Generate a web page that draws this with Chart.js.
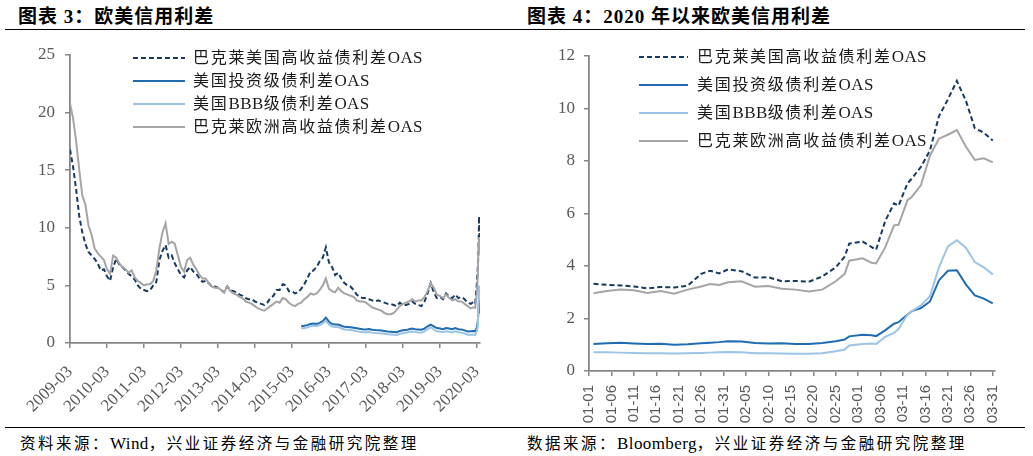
<!DOCTYPE html>
<html lang="zh-CN">
<head>
<meta charset="UTF-8">
<title>欧美信用利差</title>
<script src="https://cdn.jsdelivr.net/npm/chart.js@4.4.1/dist/chart.umd.min.js"></script>
<style>
  html, body { margin: 0; padding: 0; background: #fff; }
  body { width: 1033px; height: 456px; position: relative; overflow: hidden;
         font-family: "Liberation Serif", "Noto Sans CJK SC", serif; color: #000; }
  .title { position: absolute; top: 1px; font-size: 19px; font-weight: bold; letter-spacing: 1px; white-space: nowrap; }
  .rule { position: absolute; height: 0; border-top: 1.5px solid #000; }
  .source { position: absolute; top: 431px; font-size: 15.5px; letter-spacing: 2.5px; white-space: nowrap; }
  .latin { letter-spacing: 0.4px; font-size: 17px; }
  canvas { position: absolute; top: 0; }
  .legend { position: absolute; top: 0; font-size: 16px; letter-spacing: 1.7px; color: #1a1a1a; }
  .legend .row { position: absolute; white-space: nowrap; line-height: 20px; }
  .legend svg { position: absolute; }
</style>
</head>
<body>
<div class="title" style="left:18px">图表 3：欧美信用利差</div>
<div class="title" style="left:527px">图表 4：2020 年以来欧美信用利差</div>
<div class="rule" style="left:5px; width:1020px; top:29px"></div>
<div class="rule" style="left:5px; width:1020px; top:427px"></div>
<div class="source" style="left:20px">资料来源：<span class="latin">Wind</span>，兴业证券经济与金融研究院整理</div>
<div class="source" style="left:527px">数据来源：<span class="latin">Bloomberg</span>，兴业证券经济与金融研究院整理</div>

<canvas id="leftChart" width="515" height="420" style="left:0"></canvas>
<canvas id="rightChart" width="518" height="430" style="left:515px"></canvas>
<div id="leftLegend" class="legend"></div>
<div id="rightLegend" class="legend"></div>

<script>
// 系列名称
const seriesNames = ['巴克莱美国高收益债利差OAS', '美国投资级债利差OAS', '美国BBB级债利差OAS', '巴克莱欧洲高收益债利差OAS'];
const seriesColors = ['#173a63', '#1f6cb3', '#9cc4e6', '#a5a5a5'];

// 图表3：2009-03 起的月度数据，2020年2-3月加密
const leftTicks = ['2009-03', '2010-03', '2011-03', '2012-03', '2013-03', '2014-03',
                   '2015-03', '2016-03', '2017-03', '2018-03', '2019-03', '2020-03'];
const leftExtraDates = ['2020-02-14', '2020-02-28', '2020-03-09', '2020-03-16', '2020-03-23', '2020-03-31'];
const leftHY = [
  16.8, 15.3, 13.3, 11.0, 9.6, 8.6, 7.9, 7.6, 7.3, 6.9,
  6.3, 6.4, 5.8, 5.4, 6.6, 7.3, 6.8, 6.6, 6.3, 6.0, 5.8, 5.5,
  5.0, 4.7, 4.6, 4.5, 4.6, 5.0, 5.3, 7.2, 8.0, 8.5, 7.4, 7.6,
  6.9, 6.4, 5.9, 5.7, 6.3, 6.6, 6.2, 6.0, 5.6, 5.3, 5.4, 5.2,
  4.9, 4.9, 4.8, 4.6, 4.4, 4.9, 4.6, 4.5, 4.4, 4.2, 4.1, 3.9,
  3.8, 3.8, 3.6, 3.5, 3.4, 3.3, 3.5, 3.9, 4.1, 4.6, 4.6, 5.1,
  5.0, 4.5, 4.5, 4.3, 4.4, 4.7, 5.1, 5.6, 6.2, 6.3, 6.6, 7.1,
  7.4, 8.3, 7.0, 6.6, 5.9, 6.1, 5.6, 5.2, 5.0, 4.9, 4.6, 4.2,
  4.0, 3.9, 3.9, 3.8, 3.7, 3.6, 3.7, 3.6, 3.5, 3.4, 3.4, 3.3,
  3.2, 3.5, 3.3, 3.3, 3.4, 3.6, 3.4, 3.3, 3.2, 3.6, 4.3, 5.2,
  4.4, 3.9, 4.0, 3.8, 4.3, 4.0, 3.9, 4.2, 3.9, 4.0, 3.8, 3.5,
  3.4, 3.6,
  3.45, 5.0, 6.4, 7.8, 11.0, 8.8
];
const leftEU = [
  20.8, 19.5, 17.5, 15.0, 12.8, 12.0, 10.2, 9.4, 8.2, 7.8,
  7.5, 7.2, 6.4, 6.0, 7.6, 7.4, 6.9, 6.6, 6.4, 6.1, 6.3, 5.7,
  5.4, 5.2, 5.0, 5.1, 5.1, 5.4, 6.3, 8.2, 9.6, 10.4, 8.6, 8.8,
  8.6, 7.6, 6.6, 6.2, 7.2, 7.4, 6.8, 6.4, 5.9, 5.6, 5.6, 5.2,
  4.9, 4.8, 4.8, 4.6, 4.4, 4.9, 4.5, 4.3, 4.2, 4.0, 3.9, 3.6,
  3.5, 3.4, 3.2, 3.0, 2.9, 2.8, 3.0, 3.2, 3.4, 3.6, 3.5, 3.9,
  3.8, 3.5, 3.3, 3.2, 3.4, 3.5, 3.8, 4.0, 4.3, 4.2, 4.3, 4.6,
  5.0, 5.6, 4.7, 4.5, 4.4, 4.8, 4.5, 4.3, 4.2, 4.1, 4.0, 3.7,
  3.6, 3.6, 3.5, 3.3, 3.1, 3.0, 2.9, 2.8, 2.6, 2.5, 2.5, 2.6,
  2.9, 3.2, 3.4, 3.5, 3.6, 3.8, 3.6, 3.7, 3.7, 4.0, 4.5, 5.2,
  4.8, 4.2, 4.1, 3.9, 4.2, 3.9, 3.7, 3.8, 3.6, 3.6, 3.4, 3.2,
  3.0, 3.1,
  3.05, 4.25, 5.55, 8.2, 9.2, 7.95
];
// 投资级与BBB级序列自 2015-06 开始
const leftIGStart = '2015-06';
const leftIG = [
  1.45, 1.50, 1.55, 1.65, 1.70, 1.65, 1.75,
  1.90, 2.20, 1.85, 1.65, 1.60, 1.60, 1.50, 1.40, 1.38, 1.36, 1.32, 1.28,
  1.23, 1.20, 1.18, 1.22, 1.15, 1.12, 1.10, 1.08, 1.05, 1.00, 0.98, 0.96,
  0.93, 1.05, 1.10, 1.12, 1.20, 1.25, 1.20, 1.18, 1.15, 1.25, 1.45, 1.60,
  1.45, 1.30, 1.25, 1.20, 1.30, 1.25, 1.20, 1.30, 1.20, 1.18, 1.10, 1.00,
  1.03, 1.05,
  1.03, 1.32, 1.80, 2.60, 3.85, 2.58
];
const leftBBB = [
  1.25, 1.30, 1.35, 1.45, 1.50, 1.45, 1.55,
  1.70, 1.95, 1.60, 1.42, 1.38, 1.38, 1.28, 1.18, 1.15, 1.12, 1.08, 1.02,
  0.98, 0.95, 0.92, 0.96, 0.90, 0.87, 0.85, 0.83, 0.80, 0.76, 0.74, 0.72,
  0.70, 0.80, 0.85, 0.88, 0.95, 1.00, 0.95, 0.92, 0.90, 1.00, 1.20, 1.35,
  1.18, 1.02, 0.98, 0.93, 1.02, 0.97, 0.92, 1.02, 0.93, 0.90, 0.82, 0.72,
  0.72, 0.74,
  0.68, 0.97, 1.45, 2.85, 4.98, 3.68
];

// 图表4：2020年1-3月
const rightTicks = ['01-01', '01-06', '01-11', '01-16', '01-21', '01-26', '01-31', '02-05', '02-10', '02-15',
                    '02-20', '02-25', '03-01', '03-06', '03-11', '03-16', '03-21', '03-26', '03-31'];
const rightDates = ['01-02', '01-05', '01-08', '01-11', '01-14', '01-17', '01-20', '01-23', '01-26', '01-28',
                    '01-30', '02-01', '02-04', '02-07', '02-10', '02-13', '02-16', '02-19', '02-22', '02-25',
                    '02-27', '02-28', '03-02', '03-04', '03-05', '03-07', '03-09', '03-10', '03-12', '03-13',
                    '03-15', '03-17', '03-19', '03-21', '03-23', '03-25', '03-27', '03-29', '03-31'];
const rightHY = [3.32, 3.28, 3.26, 3.22, 3.15, 3.20, 3.18, 3.25, 3.70, 3.82,
                 3.72, 3.87, 3.80, 3.56, 3.57, 3.42, 3.43, 3.40, 3.60, 3.95,
                 4.36, 4.85, 4.93, 4.72, 4.62, 5.70, 6.39, 6.30, 7.15, 7.34,
                 7.78, 8.40, 9.70, 10.35, 11.05, 10.30, 9.25, 9.08, 8.78];
const rightIG = [1.03, 1.06, 1.08, 1.05, 1.03, 1.04, 1.00, 1.02, 1.06, 1.08,
                 1.10, 1.13, 1.12, 1.07, 1.05, 1.06, 1.03, 1.03, 1.07, 1.13,
                 1.20, 1.32, 1.38, 1.36, 1.33, 1.55, 1.80, 1.86, 2.15, 2.28,
                 2.40, 2.65, 3.45, 3.82, 3.84, 3.30, 2.88, 2.76, 2.58];
const rightBBB = [0.71, 0.71, 0.70, 0.69, 0.68, 0.68, 0.67, 0.68, 0.69, 0.70,
                  0.71, 0.72, 0.71, 0.68, 0.68, 0.67, 0.66, 0.66, 0.68, 0.75,
                  0.82, 0.97, 1.03, 1.05, 1.03, 1.30, 1.45, 1.60, 2.15, 2.28,
                  2.50, 2.85, 3.95, 4.75, 4.98, 4.70, 4.15, 3.95, 3.68];
const rightEU = [2.96, 3.05, 3.10, 3.08, 2.97, 3.05, 2.94, 3.10, 3.22, 3.31,
                 3.28, 3.38, 3.42, 3.21, 3.24, 3.13, 3.10, 3.03, 3.10, 3.42,
                 3.70, 4.20, 4.29, 4.12, 4.10, 4.70, 5.55, 5.57, 6.51, 6.64,
                 7.08, 8.20, 8.85, 9.00, 9.18, 8.55, 8.04, 8.10, 7.95];

// ---- 日期换算 ----
// 左图：距 2009-03 的月数
function monthPos(s) {
  const p = s.split('-').map(Number);
  const dim = new Date(p[0], p[1], 0).getDate();
  return (p[0] - 2009) * 12 + (p[1] - 3) + (p[2] ? (p[2] - 1) / dim : 0);
}
// 左图月度日期 2009-03 ... 2020-02
const leftMonthly = [];
for (let i = 0; i < 132; i++) {
  const y = 2009 + Math.floor((i + 2) / 12), m = (i + 2) % 12 + 1;
  leftMonthly.push(y + '-' + String(m).padStart(2, '0'));
}
const leftDates = leftMonthly.concat(leftExtraDates);
const igOffset = leftDates.indexOf(leftIGStart);

// 右图：距 01-01 的天数（2020闰年）
const monthStart = [0, 31, 60];
function dayPos(s) {
  const p = s.split('-').map(Number);
  return monthStart[p[0] - 1] + p[1] - 1;
}

const toPts = (dates, vals, pos, off = 0) => vals.map((v, i) => ({ x: pos(dates[i + off]), y: v }));

function makeDatasets(pts) {
  return pts.map((data, i) => ({
    label: seriesNames[i],
    data,
    borderColor: seriesColors[i],
    borderWidth: 2,
    borderDash: i === 0 ? [5, 3] : [],
    pointRadius: 0,
    tension: 0,
    fill: false,
    order: 3 - i
  }));
}

const serif = "'Liberation Serif', 'Noto Sans CJK SC', serif";
const axisGrey = '#868686';
const labelGrey = '#595959';

function axisCommon() {
  return {
    grid: { display: true, drawOnChartArea: false, drawTicks: true, tickLength: 5, color: axisGrey, lineWidth: 1.5 },
    border: { display: true, color: axisGrey, width: 1.8 }
  };
}

function buildChart(id, cfg) {
  return new Chart(document.getElementById(id), {
    type: 'line',
    data: { datasets: makeDatasets(cfg.pts) },
    options: {
      responsive: false,
      animation: false,
      devicePixelRatio: 1,
      layout: { padding: cfg.padding },
      plugins: { legend: { display: false }, tooltip: { enabled: false } },
      scales: {
        x: Object.assign(axisCommon(), {
          type: 'linear', min: cfg.xMin, max: cfg.xMax,
          afterBuildTicks: s => { s.ticks = cfg.ticks.map((t, i) => ({ value: i * cfg.step })); },
          afterFit: s => { s.height = cfg.xHeight; },
          ticks: {
            autoSkip: false, minRotation: cfg.rot, maxRotation: cfg.rot, padding: cfg.xPad,
            color: labelGrey, font: cfg.xFont,
            callback: v => cfg.ticks[Math.round(v / cfg.step)]
          }
        }),
        y: Object.assign(axisCommon(), {
          min: 0, max: cfg.yMax,
          afterFit: s => { s.width = cfg.yWidth; },
          ticks: { stepSize: cfg.yStep, padding: cfg.yPad, color: labelGrey, font: { family: serif, size: 17 } }
        })
      }
    }
  });
}

buildChart('leftChart', {
  pts: [
    toPts(leftDates, leftHY, monthPos),
    toPts(leftDates, leftIG, monthPos, igOffset),
    toPts(leftDates, leftBBB, monthPos, igOffset),
    toPts(leftDates, leftEU, monthPos)
  ],
  padding: { left: 0, right: 35, top: 55, bottom: 0 },
  xMin: 0, xMax: 133, step: 12, ticks: leftTicks, rot: 45, xPad: 14,
  xFont: { family: serif, size: 17 }, xHeight: 77,
  yMax: 25, yStep: 5, yWidth: 70, yPad: 10
});

buildChart('rightChart', {
  pts: [
    toPts(rightDates, rightHY, dayPos),
    toPts(rightDates, rightIG, dayPos),
    toPts(rightDates, rightBBB, dayPos),
    toPts(rightDates, rightEU, dayPos)
  ],
  padding: { left: 0, right: 38, top: 56, bottom: 0 },
  xMin: 0, xMax: 90.5, step: 5, ticks: rightTicks, rot: 90, xPad: 9,
  xFont: { family: "'Liberation Sans', sans-serif", size: 15 }, xHeight: 59,
  yMax: 12, yStep: 2, yWidth: 74, yPad: 9
});

// 图例（绘于绘图区内左上方），拉丁字母部分不加字距
function fillText(el, text) {
  text.split(/([A-Za-z]+)/).forEach(part => {
    if (!part) return;
    if (/^[A-Za-z]+$/.test(part)) {
      const s = document.createElement('span');
      s.className = 'latin';
      s.textContent = part;
      el.appendChild(s);
    } else {
      el.appendChild(document.createTextNode(part));
    }
  });
}
function buildLegend(id, lineX0, lineX1, textX, rowsY) {
  const el = document.getElementById(id);
  seriesNames.forEach((name, i) => {
    const y = rowsY[i];
    const svg = document.createElementNS('http://www.w3.org/2000/svg', 'svg');
    svg.setAttribute('width', lineX1 - lineX0);
    svg.setAttribute('height', 6);
    svg.style.left = lineX0 + 'px';
    svg.style.top = (y - 3) + 'px';
    const ln = document.createElementNS('http://www.w3.org/2000/svg', 'line');
    ln.setAttribute('x1', 0); ln.setAttribute('x2', lineX1 - lineX0);
    ln.setAttribute('y1', 3); ln.setAttribute('y2', 3);
    ln.setAttribute('stroke', seriesColors[i]);
    ln.setAttribute('stroke-width', 2);
    if (i === 0) ln.setAttribute('stroke-dasharray', '5 3');
    svg.appendChild(ln);
    el.appendChild(svg);
    const row = document.createElement('div');
    row.className = 'row';
    fillText(row, name);
    row.style.left = textX + 'px';
    row.style.top = (y - 10) + 'px';
    el.appendChild(row);
  });
}
buildLegend('leftLegend', 133, 185, 193, [58, 81, 104, 127]);
buildLegend('rightLegend', 639, 688, 697, [57, 85, 113, 141]);
</script>
</body>
</html>
